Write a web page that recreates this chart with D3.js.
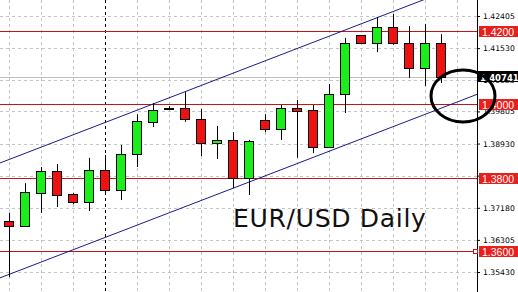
<!DOCTYPE html>
<html>
<head>
<meta charset="utf-8">
<script src="https://cdn.jsdelivr.net/npm/d3@7"></script>
<style>
  body { margin: 0; background: #fff; }
  svg { display: block; }
</style>
</head>
<body>
<div id="chart"></div>
<script>
// daily EUR/USD candles, oldest first
const opens  = [1.3682, 1.3668, 1.3758, 1.3818, 1.3755, 1.3734, 1.3821, 1.3766, 1.3864, 1.3952,
                1.3990, 1.3990, 1.3960, 1.3894, 1.3903, 1.3799, 1.3957, 1.3933, 1.3990, 1.3984,
                1.3884, 1.4028, 1.4189, 1.4167, 1.4211, 1.4167, 1.4099, 1.4167];
const highs  = [1.3704, 1.3785, 1.3829, 1.3837, 1.3758, 1.3854, 1.3862, 1.3889, 1.3973, 1.4003,
                1.3995, 1.4033, 1.3987, 1.3941, 1.3924, 1.3903, 1.3973, 1.3998, 1.4012, 1.3998,
                1.4055, 1.4181, 1.4189, 1.4238, 1.4246, 1.4213, 1.4219, 1.4191];
const lows   = [1.3529, 1.3667, 1.3704, 1.3720, 1.3728, 1.3709, 1.3755, 1.3739, 1.3829, 1.3938,
                1.3984, 1.3952, 1.3859, 1.3851, 1.3772, 1.3753, 1.3924, 1.3903, 1.3854, 1.3867,
                1.3881, 1.3976, 1.4164, 1.4142, 1.4162, 1.4072, 1.4050, 1.4058];
const closes = [1.3668, 1.3761, 1.3818, 1.3753, 1.3734, 1.3821, 1.3766, 1.3864, 1.3954, 1.3984,
                1.3990, 1.3960, 1.3894, 1.3903, 1.3799, 1.3900, 1.3933, 1.3990, 1.3982, 1.3884,
                1.4028, 1.4167, 1.4167, 1.4211, 1.4167, 1.4099, 1.4167, 1.40741];

const tickValues = [1.42405, 1.41530, 1.40655, 1.39805, 1.38930, 1.38055, 1.37180, 1.36305, 1.35430];
const levels = [1.4200, 1.4000, 1.3800, 1.3600];
const lastPrice = 1.40741;
const separatorIndex = 6;
// channel lines as [candle index, price]
const upperChannel = [[-0.5625, 1.3840], [27, 1.4303]];
const lowerChannel = [[-0.5625, 1.3527], [29.25, 1.4027]];
const title = 'EUR/USD Daily';

const W = 518, H = 292, plotRight = 477;

const x = d3.scaleLinear().domain([0, 27]).range([9, 441]);
const y = d3.scaleLinear().domain([1.35430, 1.42405]).range([272, 16]);

const svg = d3.select('#chart').append('svg')
  .attr('width', W).attr('height', H);

svg.append('defs').append('clipPath').attr('id', 'plot')
  .append('rect').attr('x', 0).attr('y', 0).attr('width', plotRight).attr('height', H);

const plot = svg.append('g').attr('clip-path', 'url(#plot)');

// vertical grid every two candles
const gridIdx = d3.range(0, 30, 2);
plot.selectAll('.vgrid').data(gridIdx).enter().append('line')
  .attr('x1', d => Math.round(x(d)) + 0.5).attr('x2', d => Math.round(x(d)) + 0.5)
  .attr('y1', 0).attr('y2', H)
  .attr('stroke', '#c4c4c4').attr('stroke-dasharray', '3,3');

plot.selectAll('.hgrid').data(tickValues).enter().append('line')
  .attr('x1', 0).attr('x2', plotRight)
  .attr('y1', d => Math.round(y(d)) + 0.5).attr('y2', d => Math.round(y(d)) + 0.5)
  .attr('stroke', '#c4c4c4').attr('stroke-dasharray', '3,3');

// period separator
plot.append('line')
  .attr('x1', Math.round(x(separatorIndex)) + 0.5).attr('x2', Math.round(x(separatorIndex)) + 0.5)
  .attr('y1', 0).attr('y2', H)
  .attr('stroke', '#000').attr('stroke-dasharray', '3,3');

// bid line
plot.append('line')
  .attr('x1', 0).attr('x2', plotRight)
  .attr('y1', Math.round(y(lastPrice)) + 0.5).attr('y2', Math.round(y(lastPrice)) + 0.5)
  .attr('stroke', '#c0c0c0');

// horizontal levels
plot.selectAll('.level').data(levels).enter().append('line')
  .attr('x1', 0).attr('x2', plotRight)
  .attr('y1', d => Math.round(y(d)) + 0.5).attr('y2', d => Math.round(y(d)) + 0.5)
  .attr('stroke', '#c41414');

// channel
const line = d3.line().x(d => x(d[0])).y(d => y(d[1]));
[upperChannel, lowerChannel].forEach(c => {
  plot.append('path').attr('d', line(c))
    .attr('fill', 'none').attr('stroke', '#1a1a8c').attr('stroke-width', 1);
});

// candles
const data = opens.map((o, i) => ({ i: i, o: o, h: highs[i], l: lows[i], c: closes[i] }));
const candles = plot.selectAll('.candle').data(data).enter().append('g');

candles.append('line')
  .attr('x1', d => Math.round(x(d.i)) + 0.5).attr('x2', d => Math.round(x(d.i)) + 0.5)
  .attr('y1', d => y(d.h)).attr('y2', d => y(d.l))
  .attr('stroke', '#000');

candles.append('rect')
  .attr('x', d => Math.round(x(d.i)) - 4.5)
  .attr('width', 10 - 1)
  .attr('y', d => Math.round(y(Math.max(d.o, d.c))) + 0.5)
  .attr('height', d => Math.max(1, Math.round(Math.abs(y(d.o) - y(d.c)))))
  .attr('fill', d => d.c > d.o ? '#1aef1a' : (d.c < d.o ? '#ee1111' : '#000'))
  .attr('stroke', '#000');

// right axis
svg.append('line')
  .attr('x1', plotRight + 0.5).attr('x2', plotRight + 0.5)
  .attr('y1', 0).attr('y2', H).attr('stroke', '#000');

const axis = svg.append('g')
  .attr('transform', 'translate(' + plotRight + ',0)')
  .call(d3.axisRight(y).tickValues(tickValues).tickSize(3).tickFormat(d3.format('.5f')));
axis.select('.domain').remove();
axis.selectAll('text')
  .attr('x', 6)
  .style('font-family', 'DejaVu Sans')
  .style('font-size', '7.7px')
  .attr('fill', '#000');

// level labels
const lab = svg.selectAll('.lab').data(levels).enter().append('g')
  .attr('transform', d => 'translate(479,' + Math.round(y(d)) + ')');
lab.append('rect')
  .attr('x', 0).attr('y', -5).attr('width', 39).attr('height', 11)
  .attr('fill', '#e8201c');
lab.append('text')
  .attr('x', 3).attr('y', 4.5)
  .attr('fill', '#fff')
  .style('font-family', 'Liberation Sans')
  .style('font-size', '10.5px')
  .text(d => d3.format('.4f')(d));

// small anchor on the lowest level
svg.append('rect')
  .attr('x', 473.5).attr('y', Math.round(y(levels[3])) - 1.5)
  .attr('width', 4).attr('height', 4)
  .attr('fill', '#fff').attr('stroke', '#c41414');

// last price label
const lp = svg.append('g').attr('transform', 'translate(478,' + Math.round(y(lastPrice)) + ')');
lp.append('rect').attr('x', 0).attr('y', -6).attr('width', 40).attr('height', 11).attr('fill', '#000');
lp.append('text').attr('x', 2).attr('y', 4)
  .attr('fill', '#fff')
  .style('font-family', 'DejaVu Sans')
  .style('font-size', '8.5px')
  .style('font-weight', 'bold')
  .text(d3.format('.5f')(lastPrice));

// hand-drawn circle
svg.append('ellipse')
  .attr('cx', 463).attr('cy', 96).attr('rx', 32).attr('ry', 26)
  .attr('fill', 'none').attr('stroke', '#000').attr('stroke-width', 3);

svg.append('text')
  .attr('x', 233).attr('y', 227)
  .attr('fill', '#111')
  .style('font-family', 'DejaVu Sans')
  .style('font-size', '25px')
  .style('letter-spacing', '0.7px')
  .text(title);
</script>
</body>
</html>
